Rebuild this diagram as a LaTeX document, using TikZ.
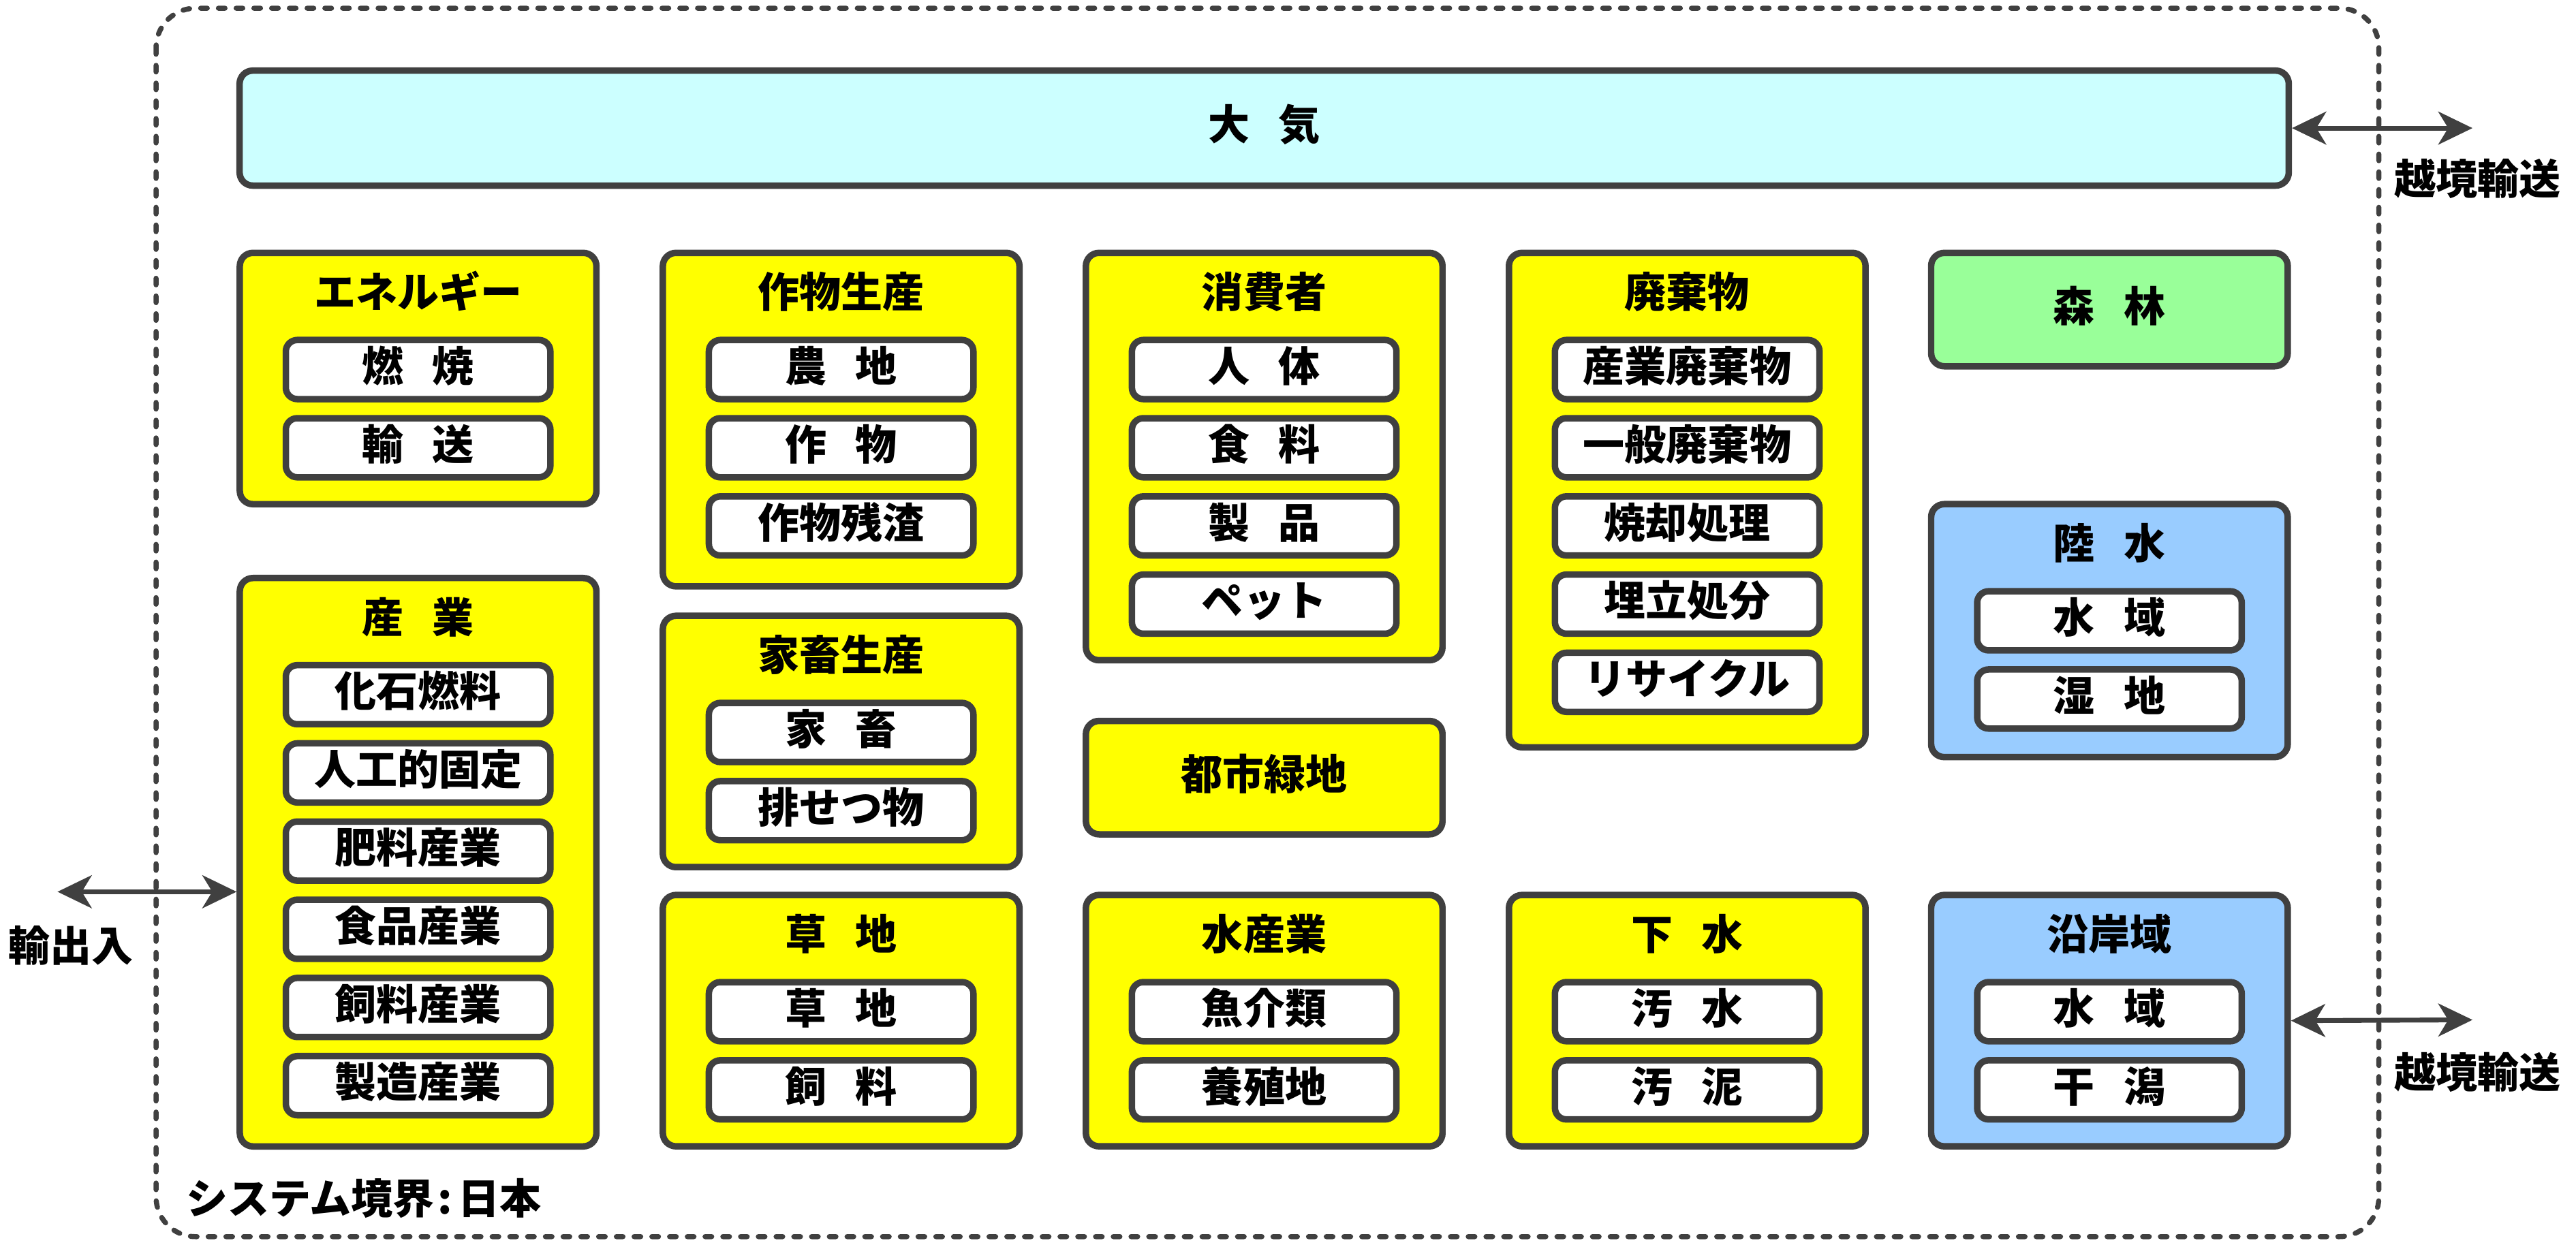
\documentclass[tikz,border=0pt]{standalone}
\usepackage{fontspec}
\setmainfont{Noto Sans CJK JP}
\usetikzlibrary{arrows.meta}
\definecolor{lineg}{HTML}{404040}
\definecolor{yel}{HTML}{FFFF00}
\definecolor{sky}{HTML}{CCFFFF}
\definecolor{leaf}{HTML}{99FF99}
\definecolor{aqua}{HTML}{99CCFF}
\newcommand{\jsp}{\hspace{0.7em}}
\tikzset{
    jp/.style={font=\fontsize{18}{20}\selectfont\bfseries, text height=1.05em, text depth=0em, inner sep=0pt},
    grp/.style={jp, draw=lineg, line width=2.8pt, rounded corners=0.2cm, minimum width=5.425cm, anchor=north},
    item/.style={jp, draw=lineg, fill=white, line width=2.8pt, rounded corners=0.175cm, minimum width=4.025cm, minimum height=0.9cm},
    biarr/.style={draw=lineg, line width=2.1pt, {Stealth[length=0.52cm,width=0.5cm,inset=0.15cm]}-{Stealth[length=0.52cm,width=0.5cm,inset=0.15cm]}},
    bnd/.style={draw=lineg, line width=2.2pt, line cap=round, dash pattern=on 0.1cm off 0.17cm, rounded corners=0.6cm}
}
\begin{document}
\begin{tikzpicture}[x=0.025cm, y=-0.025cm]
    \useasboundingbox (0,0) rectangle (1568,759.3);
    % system boundary
    \draw[bnd] (95,5) rectangle (1448,753);
    \node[jp, anchor=west] (sys) at (113,732) {システム境界\hspace{0.08em}:\hspace{0.15em}日本};

    \node[jp, draw=lineg, fill=sky, line width=2.8pt, rounded corners=0.2cm,
        minimum width=31.175cm, minimum height=1.75cm] (air) at (769.5,78) {大\jsp 気};

    % energy
    \node[grp, fill=yel, minimum height=3.825cm] (ene) at (254.5,152) {};
    \node[jp] (ene-t) at ([yshift=-0.7cm]ene.north) {エネルギー};
    \foreach \t [count=\i] in {燃\jsp 焼,輸\jsp 送}
        \node[item] (ene-\i) at ([yshift={-1.825cm-(\i-1)*1.19cm}]ene.north) {\t};

    % industry
    \node[grp, fill=yel, minimum height=8.65cm] (ind) at (254.5,350) {};
    \node[jp] (ind-t) at ([yshift=-0.7cm]ind.north) {産\jsp 業};
    \foreach \t [count=\i] in {化石燃料,人工的固定,肥料産業,食品産業,飼料産業,製造産業}
        \node[item] (ind-\i) at ([yshift={-1.825cm-(\i-1)*1.19cm}]ind.north) {\t};

    % crops
    \node[grp, fill=yel, minimum height=5.075cm] (crp) at (512,152) {};
    \node[jp] (crp-t) at ([yshift=-0.7cm]crp.north) {作物生産};
    \foreach \t [count=\i] in {農\jsp 地,作\jsp 物,作物残渣}
        \node[item] (crp-\i) at ([yshift={-1.825cm-(\i-1)*1.19cm}]crp.north) {\t};

    % livestock
    \node[grp, fill=yel, minimum height=3.825cm] (lvs) at (512,373) {};
    \node[jp] (lvs-t) at ([yshift=-0.7cm]lvs.north) {家畜生産};
    \foreach \t [count=\i] in {家\jsp 畜,排せつ物}
        \node[item] (lvs-\i) at ([yshift={-1.825cm-(\i-1)*1.19cm}]lvs.north) {\t};

    % grassland
    \node[grp, fill=yel, minimum height=3.825cm] (grs) at (512,543) {};
    \node[jp] (grs-t) at ([yshift=-0.7cm]grs.north) {草\jsp 地};
    \foreach \t [count=\i] in {草\jsp 地,飼\jsp 料}
        \node[item] (grs-\i) at ([yshift={-1.825cm-(\i-1)*1.19cm}]grs.north) {\t};

    % consumers
    \node[grp, fill=yel, minimum height=6.2cm] (con) at (769.5,152) {};
    \node[jp] (con-t) at ([yshift=-0.7cm]con.north) {消費者};
    \foreach \t [count=\i] in {人\jsp 体,食\jsp 料,製\jsp 品,ペット}
        \node[item] (con-\i) at ([yshift={-1.825cm-(\i-1)*1.19cm}]con.north) {\t};

    \node[grp, fill=yel, minimum height=1.725cm, anchor=center] (urb) at (769.5,473.5) {都市緑地};

    % fisheries
    \node[grp, fill=yel, minimum height=3.825cm] (fsh) at (769.5,543) {};
    \node[jp] (fsh-t) at ([yshift=-0.7cm]fsh.north) {水産業};
    \foreach \t [count=\i] in {魚介類,養殖地}
        \node[item] (fsh-\i) at ([yshift={-1.825cm-(\i-1)*1.19cm}]fsh.north) {\t};

    % waste
    \node[grp, fill=yel, minimum height=7.525cm] (wst) at (1027,152) {};
    \node[jp] (wst-t) at ([yshift=-0.7cm]wst.north) {廃棄物};
    \foreach \t [count=\i] in {産業廃棄物,一般廃棄物,焼却処理,埋立処分,リサイクル}
        \node[item] (wst-\i) at ([yshift={-1.825cm-(\i-1)*1.19cm}]wst.north) {\t};

    % sewage
    \node[grp, fill=yel, minimum height=3.825cm] (sew) at (1027,543) {};
    \node[jp] (sew-t) at ([yshift=-0.7cm]sew.north) {下\jsp 水};
    \foreach \t [count=\i] in {汚\jsp 水,汚\jsp 泥}
        \node[item] (sew-\i) at ([yshift={-1.825cm-(\i-1)*1.19cm}]sew.north) {\t};

    \node[grp, fill=leaf, minimum height=1.725cm, anchor=center] (frs) at (1284,188.5) {森\jsp 林};

    % inland water
    \node[grp, fill=aqua, minimum height=3.85cm] (riv) at (1284,305) {};
    \node[jp] (riv-t) at ([yshift=-0.7cm]riv.north) {陸\jsp 水};
    \foreach \t [count=\i] in {水\jsp 域,湿\jsp 地}
        \node[item] (riv-\i) at ([yshift={-1.825cm-(\i-1)*1.19cm}]riv.north) {\t};

    % coast
    \node[grp, fill=aqua, minimum height=3.825cm] (cst) at (1284,543) {};
    \node[jp] (cst-t) at ([yshift=-0.7cm]cst.north) {沿岸域};
    \foreach \t [count=\i] in {水\jsp 域,干\jsp 潟}
        \node[item] (cst-\i) at ([yshift={-1.825cm-(\i-1)*1.19cm}]cst.north) {\t};

    % flows across the boundary
    \coordinate (out-a) at (1505,78);
    \coordinate (out-c) at (1505,621);
    \coordinate (imp) at (35,543);
    \draw[biarr] (air.east) -- (out-a);
    \draw[biarr] (cst.east) -- (out-c);
    \draw[biarr] (imp) -- (imp -| ind.west);
    \node[jp] (out-a-l) at (1508,111) {越境輸送};
    \node[jp] (out-c-l) at (1508,655) {越境輸送};
    \node[jp] (imp-l) at (43,578) {輸出入};
\end{tikzpicture}
\end{document}
